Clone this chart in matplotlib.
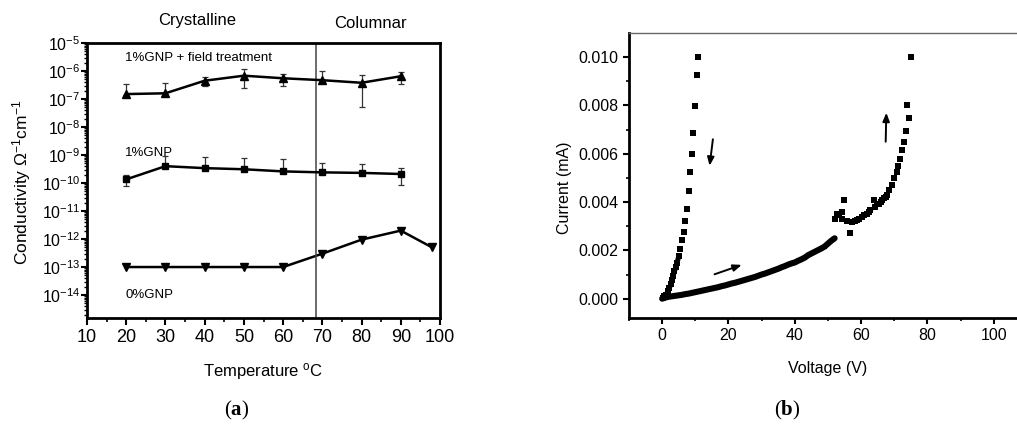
import matplotlib
matplotlib.use("Agg")
import matplotlib.pyplot as plt
import numpy as np

plt.rcParams['font.family'] = ['Liberation Sans', 'DejaVu Sans']
plt.rcParams['mathtext.fontset'] = 'custom'
plt.rcParams['mathtext.rm'] = 'Liberation Sans'
plt.rcParams['mathtext.it'] = 'Liberation Sans'
plt.rcParams['mathtext.bf'] = 'Liberation Serif:bold'
plt.rcParams['mathtext.default'] = 'regular'

# ---------------- Panel (a) data ----------------
temp = [20, 30, 40, 50, 60, 70, 80, 90]
field_y = [1.5e-7, 1.6e-7, 4.5e-7, 6.8e-7, 5.5e-7, 4.7e-7, 3.8e-7, 6.5e-7]
field_hi = [3.5e-7, 3.8e-7, 5.9e-7, 1.15e-6, 7.8e-7, 9.8e-7, 7.2e-7, 9.4e-7]
field_lo = [1.4e-7, 1.5e-7, 3.0e-7, 2.4e-7, 3.0e-7, 4.4e-7, 5.1e-8, 3.3e-7]

gnp_y = [1.35e-10, 4.0e-10, 3.4e-10, 3.1e-10, 2.6e-10, 2.4e-10, 2.3e-10, 2.1e-10]
gnp_hi = [2.0e-10, 9.5e-10, 8.3e-10, 7.8e-10, 7.0e-10, 5.0e-10, 4.8e-10, 3.4e-10]
gnp_lo = [7.8e-11, 3.8e-10, 3.2e-10, 2.9e-10, 2.4e-10, 2.3e-10, 2.2e-10, 8.7e-11]

temp0 = [20, 30, 40, 50, 60, 70, 80, 90, 98]
zero_y = [1e-13, 1e-13, 1e-13, 1e-13, 1e-13, 3e-13, 9.5e-13, 2e-12, 5e-13]

phase_boundary = 68.5
xticks_a = [10, 20, 30, 40, 50, 60, 70, 80, 90, 100]
yexp_a = [-14, -13, -12, -11, -10, -9, -8, -7, -6, -5]

# ---------------- Panel (b) data ----------------
fwd_v = [0, 1, 2, 3, 4, 5, 6, 7, 8, 9, 10, 11, 12, 13, 14, 15, 16, 17, 18, 19,
         20, 21, 22, 23, 24, 25, 26, 27, 28, 29, 30, 31, 32, 33, 34, 35, 36, 37,
         38, 39, 40, 41, 42, 43, 44, 45, 46, 47, 48, 49, 50, 51, 52]
fwd_i = [0.0, 0.00005, 0.00008, 0.0001, 0.00012, 0.00014, 0.00016, 0.00019,
         0.00021, 0.00024, 0.00027, 0.0003, 0.00033, 0.00036, 0.00039, 0.00042,
         0.00045, 0.00048, 0.00052, 0.00055, 0.00059, 0.00063, 0.00066, 0.0007,
         0.00074, 0.00078, 0.00082, 0.00086, 0.0009, 0.00095, 0.001, 0.00104,
         0.00109, 0.00114, 0.00119, 0.00124, 0.0013, 0.00135, 0.00141, 0.00146,
         0.0015, 0.00157, 0.00163, 0.0017, 0.0018, 0.00187, 0.00194, 0.00201,
         0.00208, 0.00216, 0.00228, 0.0024, 0.0025]

mid_v = [52.2, 52.7, 53.2, 54.2, 54.2, 54.7, 55.8, 56.5, 57.3, 58.0, 58.8, 59.5,
         60.3, 61.0, 61.8, 62.3, 62.8, 63.8, 64.3, 64.8, 65.3, 65.9, 66.4, 66.9,
         67.4, 67.9]
mid_i = [0.0033, 0.0035, 0.00345, 0.00331, 0.0036, 0.0041, 0.00321, 0.0027,
         0.00316, 0.0032, 0.00324, 0.0033, 0.00338, 0.00345, 0.00352, 0.0036,
         0.00366, 0.0041, 0.0038, 0.0039, 0.00394, 0.004, 0.0041, 0.00415,
         0.00422, 0.0043]

up_v = [68.4, 69.2, 69.9, 70.7, 71.1, 71.7, 72.2, 72.9, 73.4, 74.4, 73.9, 74.9]
up_i = [0.0045, 0.00471, 0.005, 0.00523, 0.00549, 0.00577, 0.00616, 0.00647,
        0.00694, 0.0075, 0.008, 0.010]

ret_v = [10.8, 10.5, 10.0, 9.3, 8.9, 8.5, 8.0, 7.5, 7.0, 6.5, 5.9, 5.5, 5.0, 4.5,
         4.1, 3.7, 3.3, 3.0, 2.6, 2.2, 1.7, 1.2, 0.7, 0.2]
ret_i = [0.0100, 0.00926, 0.00797, 0.00688, 0.00598, 0.00523, 0.00445, 0.00373,
         0.00321, 0.00278, 0.00242, 0.00204, 0.00176, 0.00148, 0.0013, 0.00113,
         0.00095, 0.00078, 0.0006, 0.00045, 0.0003, 0.00017, 0.0001, 0.00003]

xticks_b = [0, 20, 40, 60, 80, 100]
yticks_b = [0.000, 0.002, 0.004, 0.006, 0.008, 0.010]

# ---------------- Figure ----------------
W, H = 1017, 426
fig = plt.figure(figsize=(W / 100, H / 100), dpi=100)


def ax_rect(l, t, r, b):
    return [l / W, 1 - b / H, (r - l) / W, (b - t) / H]


# ---- Panel (a)
axa = fig.add_axes(ax_rect(87, 43, 440, 318))
axa.set_yscale('log')
axa.set_xlim(10, 100)
axa.set_ylim(10 ** -14.82, 1e-5)

lw = 1.8
axa.errorbar(temp, field_y,
             yerr=[np.array(field_y) - np.array(field_lo), np.array(field_hi) - np.array(field_y)],
             fmt='-^', color='black', lw=lw, ms=5.5, ecolor='#333333', elinewidth=0.9,
             capsize=2.5, capthick=0.9)
axa.errorbar(temp, gnp_y,
             yerr=[np.array(gnp_y) - np.array(gnp_lo), np.array(gnp_hi) - np.array(gnp_y)],
             fmt='-s', color='black', lw=lw, ms=4.5, ecolor='#333333', elinewidth=0.9,
             capsize=2.5, capthick=0.9)
axa.plot(temp0, zero_y, '-v', color='black', lw=lw, ms=5.5)
axa.axvline(phase_boundary, color='#444444', lw=1.1)

axa.text(19.7, 10 ** -5.52, '1%GNP + field treatment', fontsize=9.5, va='center', ha='left')
axa.text(19.7, 10 ** -8.93, '1%GNP', fontsize=9.5, va='center', ha='left')
axa.text(19.7, 10 ** -14.0, '0%GNP', fontsize=9.5, va='center', ha='left')

axa.set_xticks(xticks_a)
axa.set_xticks([15, 25, 35, 45, 55, 65, 75, 85, 95], minor=True)
axa.set_yticks([10.0 ** e for e in yexp_a])
axa.set_yticklabels(['10$^{%d}$' % e for e in yexp_a])
axa.yaxis.set_minor_locator(matplotlib.ticker.LogLocator(base=10, subs=np.arange(2, 10), numticks=30))
axa.yaxis.set_minor_formatter(matplotlib.ticker.NullFormatter())
axa.tick_params(axis='x', which='major', labelsize=13, length=5, width=1.5, direction='out', pad=3)
axa.tick_params(axis='x', which='minor', length=3, width=1.2, direction='out')
axa.tick_params(axis='y', which='major', labelsize=11.5, length=4, width=1.5, direction='out', pad=1)
axa.tick_params(axis='y', which='minor', length=2.5, width=1.0, direction='out')
axa.tick_params(top=False, right=False)
for s in axa.spines.values():
    s.set_linewidth(2.0)

fig.text(263 / W, 1 - 372 / H, 'Temperature $^{o}$C', fontsize=12, ha='center', va='center')
fig.text(22 / W, 1 - 182 / H, 'Conductivity $\\Omega^{-1}$cm$^{-1}$', fontsize=12.5,
         ha='center', va='center', rotation=90)
fig.text(197 / W, 1 - 20 / H, 'Crystalline', fontsize=12, ha='center', va='center')
fig.text(370 / W, 1 - 24 / H, 'Columnar', fontsize=12, ha='center', va='center')
fig.text(237 / W, 1 - 410 / H, '($\\mathbf{a}$)', fontsize=15, ha='center', va='center',
         family='Liberation Serif')

# ---- Panel (b)
axb = fig.add_axes(ax_rect(629, 33, 1017, 318))
axb.set_xlim(-10, 107)
axb.set_ylim(-0.0008, 0.011)
ms_b = 4.0
# thick forward curve appearance (densely overlapping squares in the original)
axb.plot(fwd_v, fwd_i, '-', color='black', lw=4.4, solid_capstyle='round')
axb.plot(ret_v[12:], ret_i[12:], '-', color='black', lw=3.6, solid_capstyle='round')
axb.plot(mid_v[8:17], mid_i[8:17], '-', color='black', lw=3.0)
axb.plot(fwd_v, fwd_i, 's', color='black', ms=3.0, mew=0)
for vv, ii in [(mid_v, mid_i), (up_v, up_i), (ret_v, ret_i)]:
    axb.plot(vv, ii, 's', color='black', ms=ms_b, mew=0)

arrow_kw = dict(arrowstyle='-|>,head_length=0.5,head_width=0.2', color='black', lw=1.4,
                shrinkA=0, shrinkB=0)
axb.annotate('', xy=(14.3, 0.0055), xytext=(15.3, 0.0066), arrowprops=arrow_kw)
axb.annotate('', xy=(67.6, 0.0077), xytext=(67.4, 0.0065), arrowprops=arrow_kw)
axb.annotate('', xy=(24.0, 0.00140), xytext=(15.8, 0.00101), arrowprops=arrow_kw)

axb.set_xticks(xticks_b)
axb.set_xticks([-10, 10, 30, 50, 70, 90], minor=True)
axb.set_yticks(yticks_b)
axb.set_yticklabels(['%.3f' % v for v in yticks_b])
axb.set_yticks([0.001, 0.003, 0.005, 0.007, 0.009], minor=True)
axb.tick_params(axis='both', which='major', labelsize=11.5, length=4, width=1.5, direction='out')
axb.tick_params(axis='both', which='minor', length=2.5, width=1.2, direction='out')
axb.tick_params(top=False, right=False)
axb.spines['left'].set_linewidth(2.0)
axb.spines['bottom'].set_linewidth(2.0)
axb.spines['top'].set_linewidth(1.0)
axb.spines['top'].set_color('#666666')
axb.spines['right'].set_visible(False)

fig.text(828 / W, 1 - 368 / H, 'Voltage (V)', fontsize=11.5, ha='center', va='center')
fig.text(565 / W, 1 - 188 / H, 'Current (mA)', fontsize=11.5, ha='center', va='center', rotation=90)
fig.text(787 / W, 1 - 410 / H, '($\\mathbf{b}$)', fontsize=15, ha='center', va='center',
         family='Liberation Serif')

fig.savefig('out.png', dpi=100)
